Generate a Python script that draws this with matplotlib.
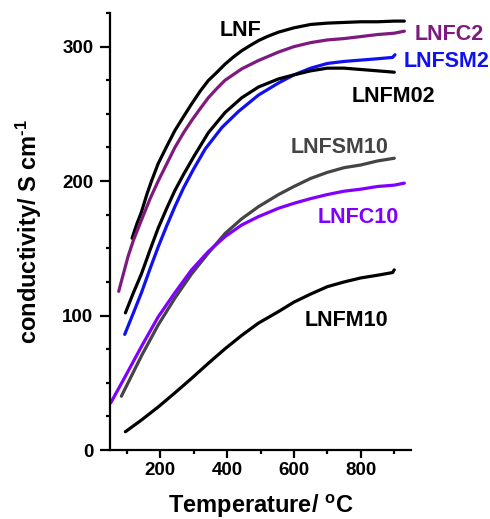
import matplotlib
matplotlib.use("Agg")
import matplotlib.pyplot as plt
from matplotlib.ticker import MultipleLocator

plt.rcParams['font.family'] = ['Liberation Sans', 'DejaVu Sans']
plt.rcParams['font.weight'] = 'bold'
plt.rcParams['mathtext.fontset'] = 'custom'
plt.rcParams['mathtext.rm'] = 'Liberation Sans:bold'
plt.rcParams['mathtext.it'] = 'Liberation Sans:bold'
plt.rcParams['mathtext.bf'] = 'Liberation Sans:bold'

# ---- data ----
lnf_T = [116, 130, 144, 160, 174, 194, 220, 244, 270, 294, 320, 344, 370, 394, 420, 444, 470, 494, 520, 554,
         600, 650, 700, 750, 800, 850, 900, 930]
lnf_v = [157.5, 168, 177, 190, 200, 213, 226, 237.6, 248, 257.4, 267, 274.8, 281, 287, 292.5, 297, 301, 304.5,
         307.5, 310.8, 314, 316.5, 317.5, 318, 318.5, 318.5, 319, 319]

lnfc2_T = [76, 90, 104, 120, 144, 170, 194, 220, 244, 270, 294, 320, 344, 370, 394, 444, 494, 554,
           600, 650, 700, 750, 800, 850, 900, 930]
lnfc2_v = [118, 131, 144, 156, 171, 187, 200, 213, 225, 236, 245, 254, 262, 269, 275, 283.5, 289.7, 296,
           300, 303, 305, 306, 307.5, 309, 310, 311.5]

lnfsm2_T = [94, 120, 144, 170, 194, 220, 244, 270, 300, 335, 385, 435, 494, 554, 600, 650, 700, 750, 800, 850,
            895, 902]
lnfsm2_v = [86, 102, 117, 135, 151, 167, 181, 195, 209, 224, 240, 252, 264, 273, 279, 284, 287.5, 289, 290, 291,
            292, 294]

lnfm02_T = [96, 120, 144, 170, 194, 220, 244, 270, 300, 344, 394, 444, 494, 554, 600, 650, 700, 750, 800, 850,
            900]
lnfm02_v = [102, 117, 131, 149, 165, 180, 193, 205, 218, 236, 251, 262, 270, 276, 279, 282, 284, 284, 283, 282,
            281]

lnfsm10_T = [84, 144, 194, 244, 294, 344, 394, 444, 494, 554, 600, 650, 700, 750, 800, 850, 900]
lnfsm10_v = [40, 70, 93, 113, 131, 146.5, 161, 172, 181, 190, 196, 202, 206.5, 210, 212, 215, 217]

lnfc10_T = [52, 94, 144, 194, 244, 294, 344, 394, 444, 494, 554, 600, 650, 700, 750, 800, 850, 900, 930]
lnfc10_v = [35, 54, 77, 99, 117, 134, 147.6, 158.7, 167.4, 173.6, 179.8, 183.5, 187, 190, 192.5, 194, 196, 197,
            198.5]

lnfm10_T = [96, 144, 194, 244, 294, 344, 394, 444, 494, 554, 600, 650, 700, 750, 800, 850, 895, 900]
lnfm10_v = [13.6, 22.3, 32, 42.5, 53.3, 64.5, 75.3, 85.3, 94.4, 103, 110, 116, 121.5, 125, 128, 130, 132, 134]

series = [
    ("LNF", lnf_T, lnf_v, "#000000", (440, 311.8)),
    ("LNFC2", lnfc2_T, lnfc2_v, "#7e1a7e", (1064, 308.8)),
    ("LNFSM2", lnfsm2_T, lnfsm2_v, "#1010f0", (1055, 289)),
    ("LNFM02", lnfm02_T, lnfm02_v, "#000000", (896, 263)),
    ("LNFSM10", lnfsm10_T, lnfsm10_v, "#444444", (735, 225)),
    ("LNFC10", lnfc10_T, lnfc10_v, "#8000ff", (792, 173)),
    ("LNFM10", lnfm10_T, lnfm10_v, "#000000", (758, 96)),
]

fig = plt.figure(figsize=(4.9, 5.19), dpi=100)
ax = fig.add_axes([0.2245, 0.1329, 0.6143, 0.8420])

for name, T, v, c, (lx, ly) in series:
    ax.plot(T, v, color=c, lw=2.3, solid_capstyle='round', solid_joinstyle='round')
    ax.text(lx, ly, name, color=c, fontsize=15.5, fontweight='bold',
            ha='center', va='center', clip_on=False)

ax.set_xlim(50, 950)
ax.set_ylim(0, 325)
ax.xaxis.set_major_locator(MultipleLocator(200))
ax.xaxis.set_minor_locator(MultipleLocator(100))
ax.yaxis.set_major_locator(MultipleLocator(100))
ax.yaxis.set_minor_locator(MultipleLocator(25))

for s in ['top', 'right']:
    ax.spines[s].set_visible(False)
for s in ['left', 'bottom']:
    ax.spines[s].set_linewidth(1.6)

ax.tick_params(axis='both', which='major', direction='out', width=1.6, labelsize=13.5)
ax.tick_params(axis='x', which='major', length=5.5, pad=3)
ax.tick_params(axis='y', which='major', length=7, pad=5)
ax.tick_params(axis='both', which='minor', direction='out', width=1.6, length=3)
for lab in ax.get_xticklabels() + ax.get_yticklabels():
    lab.set_fontweight('bold')

ax.set_xlabel('Temperature/ $^{\\rm o}$C', fontsize=17, fontweight='bold', labelpad=10)
ax.set_ylabel('conductivity/ S cm$^{\\rm \u20101}$', fontsize=17, fontweight='bold', labelpad=13)

fig.savefig('out.png', dpi=100)
